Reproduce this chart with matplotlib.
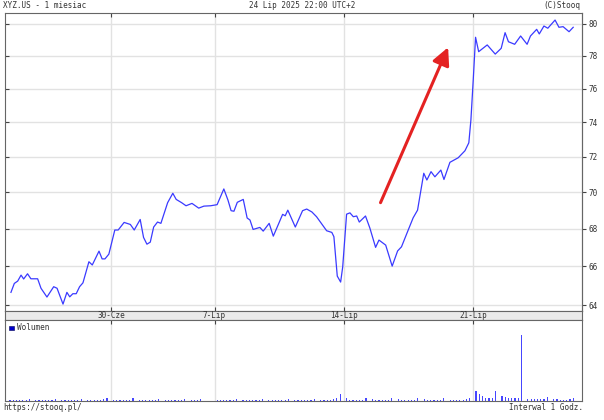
import matplotlib
matplotlib.use('Agg')
import matplotlib.pyplot as plt
from matplotlib.patches import Rectangle
from matplotlib.ticker import FixedLocator, NullLocator, NullFormatter

# time axis in trading days: 0 = 24-Cze ... 21 = 24-Lip (4-Lip closed)
price_t = [0.14, 0.27, 0.40, 0.53, 0.63, 0.78, 0.91, 1.17, 1.30, 1.53,
           1.79, 1.92, 2.15, 2.30, 2.41, 2.53, 2.66, 2.79, 2.92, 3.15,
           3.28, 3.54, 3.66, 3.77, 3.92, 4.15, 4.28, 4.51, 4.75, 4.90,
           5.13, 5.26, 5.39, 5.52, 5.65, 5.80, 5.93, 6.19, 6.39, 6.52,
           6.73, 6.90, 7.13, 7.39, 7.59, 7.85, 8.10, 8.36, 8.52, 8.64,
           8.75, 8.88, 9.11, 9.26, 9.37, 9.49, 9.75, 9.88, 10.11, 10.27,
           10.47, 10.63, 10.73, 10.83, 11.12, 11.40, 11.56, 11.76, 11.94, 12.33,
           12.53, 12.61, 12.74, 12.87, 12.95, 13.10, 13.23, 13.36, 13.49, 13.59,
           13.83, 14.00, 14.22, 14.35, 14.61, 14.86, 15.07, 15.22, 15.48, 15.67,
           15.84, 16.08, 16.20, 16.36, 16.51, 16.74, 16.86, 17.09, 17.41, 17.67,
           17.82, 17.90, 17.99, 18.08, 18.20, 18.53, 18.84, 19.07, 19.22, 19.35,
           19.59, 19.82, 20.07, 20.20, 20.44, 20.54, 20.72, 20.87, 21.15, 21.30,
           21.46, 21.69, 21.85]
price = [64.65, 65.11, 65.23, 65.54, 65.34, 65.61, 65.35, 65.35, 64.86, 64.41,
         64.94, 64.86, 64.05, 64.65, 64.42, 64.58, 64.58, 64.94, 65.14, 66.24,
         66.07, 66.80, 66.39, 66.39, 66.64, 67.93, 67.93, 68.34, 68.23, 67.93,
         68.50, 67.53, 67.17, 67.28, 68.09, 68.36, 68.29, 69.42, 69.94, 69.60,
         69.42, 69.25, 69.38, 69.12, 69.23, 69.25, 69.31, 70.18, 69.56, 68.98,
         68.95, 69.44, 69.60, 68.58, 68.47, 67.96, 68.07, 67.87, 68.29, 67.60,
         68.25, 68.78, 68.70, 69.01, 68.09, 68.98, 69.07, 68.91, 68.65, 67.89,
         67.80, 67.57, 65.49, 65.18, 65.97, 68.79, 68.86, 68.65, 68.69, 68.36,
         68.69, 68.03, 67.00, 67.39, 67.12, 66.01, 66.81, 67.03, 67.93, 68.59,
         69.01, 71.06, 70.68, 71.15, 70.86, 71.24, 70.71, 71.68, 71.94, 72.34,
         72.80, 74.13, 76.52, 79.16, 78.26, 78.68, 78.11, 78.47, 79.45, 78.88,
         78.72, 79.24, 78.72, 79.24, 79.66, 79.37, 79.87, 79.73, 80.25, 79.79,
         79.83, 79.51, 79.79]

# hourly volume, one list per session (3-Lip was a half day)
vol_days = [
    [15, 14, 13, 14, 13, 15, 25],
    [14, 13, 13, 12, 13, 14, 22],
    [13, 12, 12, 13, 12, 14, 24],
    [14, 13, 12, 12, 13, 16, 30],
    [14, 12, 12, 12, 13, 14, 26],
    [13, 12, 12, 12, 12, 14, 24],
    [14, 12, 12, 12, 13, 14, 25],
    [13, 12, 12, 18],
    [14, 13, 12, 12, 12, 14, 24],
    [13, 12, 12, 12, 12, 14, 24],
    [14, 12, 12, 12, 13, 14, 25],
    [13, 12, 12, 12, 12, 14, 24],
    [15, 14, 14, 15, 18, 30, 70],
    [30, 15, 14, 14, 14, 15, 30],
    [16, 14, 14, 14, 14, 15, 28],
    [16, 14, 14, 14, 14, 15, 30],
    [16, 14, 14, 14, 14, 15, 30],
    [15, 14, 14, 14, 15, 16, 35],
    [105, 75, 50, 35, 33, 35, 100],
    [47, 45, 30, 26, 26, 30, 660],
    [25, 20, 20, 16, 16, 20, 40],
    [20, 16, 15, 15, 15, 16, 35],
]

tick_days = [4, 8, 13, 18]
tick_labels = ['30-Cze', '7-Lip', '14-Lip', '21-Lip']
price_levels = [64, 66, 68, 70, 72, 74, 76, 78, 80]

# arrow drawn on the chart (start / end in data units)
arrow_from = (14.41, 69.42)
arrow_to = (17.02, 78.53)

MONO = 'DejaVu Sans Mono'
FS = 5.5
TXT = '#333333'
FRAME = '#666666'
GRID = '#e2e2e2'

W, H = 604, 420
fig = plt.figure(figsize=(W / 100, H / 100), dpi=100)


def box(l, t, r, b):
    return [l / W, 1 - b / H, (r - l) / W, (b - t) / H]


xlim = (-0.09, 22.19)

# price panel
ax = fig.add_axes(box(5, 13, 582, 311))
ax.plot(price_t, price, color='#3a3aff', lw=0.9)
ax.set_yscale('log')
ax.set_ylim(63.7, 80.7)
ax.set_xlim(*xlim)
ax.yaxis.set_major_locator(FixedLocator(price_levels))
ax.yaxis.set_minor_locator(NullLocator())
ax.yaxis.set_major_formatter(NullFormatter())
ax.yaxis.set_minor_formatter(NullFormatter())
ax.set_xticks(tick_days)
ax.grid(True, color=GRID, lw=1.0)
ax.set_axisbelow(True)
ax.tick_params(axis='x', top=True, bottom=True, direction='in', length=3,
               labelbottom=False, color='#444444', width=0.8)
ax.tick_params(axis='y', left=True, right=False, direction='in', length=3,
               labelleft=False, color='#444444', width=0.8)
for s in ax.spines.values():
    s.set_color(FRAME)
    s.set_linewidth(0.8)

sec = ax.secondary_yaxis('right')
sec.set_yticks(price_levels)
sec.set_yticklabels([str(v) for v in price_levels])
sec.yaxis.set_minor_locator(NullLocator())
sec.tick_params(direction='out', length=3, width=0.8, color='#444444',
                labelsize=FS, labelcolor=TXT, pad=1.5)
for lab in sec.get_yticklabels():
    lab.set_family(MONO)
sec.spines['right'].set_color(FRAME)
sec.spines['right'].set_linewidth(0.8)

ax.annotate('', xy=arrow_to, xytext=arrow_from,
            arrowprops=dict(arrowstyle='-|>,head_length=0.5,head_width=0.25',
                            mutation_scale=21, color='#e42222', lw=2.2,
                            shrinkA=0, shrinkB=0))

# date band
band = fig.add_axes(box(5, 311, 582, 320))
band.set_facecolor('#eaeaea')
band.set_xlim(*xlim)
band.set_ylim(0, 1)
band.set_xticks([])
band.set_yticks([])
for s in band.spines.values():
    s.set_color(FRAME)
    s.set_linewidth(0.8)
for d, lab in zip(tick_days, tick_labels):
    band.text(d, 0.5, lab, ha='center', va='center', fontsize=FS,
              family=MONO, color=TXT)

# volume panel
axv = fig.add_axes(box(5, 320, 582, 401))
vx, vy = [], []
for d, day in enumerate(vol_days):
    for k, v in enumerate(day):
        vx.append(d + 0.1 + 0.125 * k)
        vy.append(v)
axv.bar(vx, vy, width=0.045, color='#4646ff', lw=0)
axv.set_xlim(*xlim)
axv.set_ylim(0, max(vy) * 1.23)
axv.set_xticks(tick_days)
axv.set_yticks([])
axv.grid(True, axis='x', color=GRID, lw=1.0)
axv.set_axisbelow(True)
axv.tick_params(axis='x', top=True, bottom=False, direction='in', length=3,
                labelbottom=False, color='#444444', width=0.8)
for s in axv.spines.values():
    s.set_color(FRAME)
    s.set_linewidth(0.8)

fig.add_artist(Rectangle((9 / W, 1 - 330 / H), 5 / W, 4.5 / H,
                         transform=fig.transFigure, fc='#0000cc',
                         ec='#000055', lw=0.4))
fig.text(17 / W, 1 - 327.5 / H, 'Wolumen', ha='left', va='center',
         fontsize=FS, family=MONO, color=TXT)

# header / footer
fig.text(3 / W, 1 - 6 / H, 'XYZ.US - 1 miesiac', ha='left', va='center',
         fontsize=FS, family=MONO, color=TXT)
fig.text(302 / W, 1 - 6 / H, '24 Lip 2025 22:00 UTC+2', ha='center',
         va='center', fontsize=FS, family=MONO, color=TXT)
fig.text(580 / W, 1 - 6 / H, '(C)Stooq', ha='right', va='center',
         fontsize=FS, family=MONO, color=TXT)
fig.text(3 / W, 1 - 408 / H, 'https://stooq.pl/', ha='left', va='center',
         fontsize=FS, family=MONO, color=TXT)
fig.text(583 / W, 1 - 408 / H, 'Interwal 1 Godz.', ha='right', va='center',
         fontsize=FS, family=MONO, color=TXT)

fig.savefig('out.png', dpi=100)
